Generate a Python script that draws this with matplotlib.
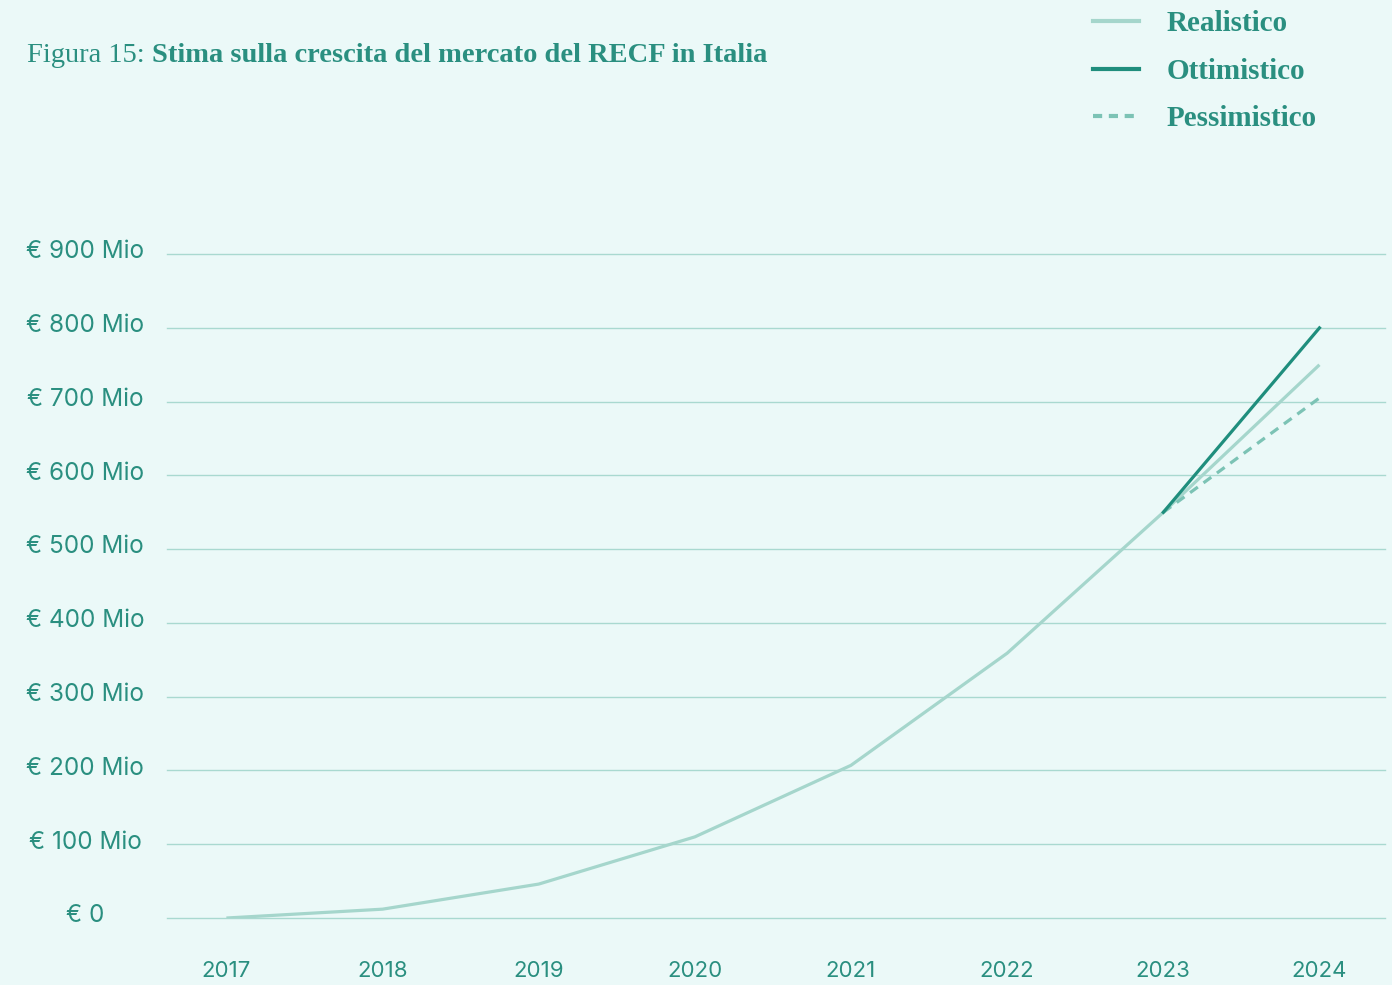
import matplotlib.pyplot as plt
from matplotlib.lines import Line2D
from matplotlib.transforms import blended_transform_factory

# dati (milioni di euro)
anni = [2017, 2018, 2019, 2020, 2021, 2022, 2023, 2024]
realistico = [0, 12, 46, 110, 207, 359, 550, 750]
anni_proiezione = [2023, 2024]
ottimistico = [550, 800]
pessimistico = [550, 705]
y_ticks = [0, 100, 200, 300, 400, 500, 600, 700, 800, 900]
y_labels = ["€ 0"] + [f"€ {v} Mio" for v in y_ticks[1:]]

bg = "#EBF9F8"
verde_scuro = "#1F8E7D"
verde_chiaro = "#A5D6CC"
verde_medio = "#7CC3B5"
griglia = "#A9D9D0"
testo = "#2A8F80"

fig = plt.figure(figsize=(13.92, 9.85), dpi=100, facecolor=bg)
ax = fig.add_axes([0.12, 0.068, 0.875, 0.674])
ax.set_facecolor(bg)

ax.plot(anni, realistico, color=verde_chiaro, lw=2.3, solid_capstyle="butt", zorder=3)
ax.plot(anni_proiezione, ottimistico, color=verde_scuro, lw=2.3, zorder=4)
ax.plot(anni_proiezione, pessimistico, color=verde_medio, lw=2.3, ls=(0, (3, 2.2)), zorder=3)

ax.set_xlim(2016.62, 2024.42)
ax.set_ylim(0, 900)
for v in y_ticks:
    ax.axhline(v, color=griglia, lw=1, zorder=1, clip_on=False)

for s in ax.spines.values():
    s.set_visible(False)
ax.set_xticks(anni)
ax.set_xticklabels([str(a) for a in anni], fontsize=16, color=testo, family="Inter")
ax.tick_params(axis="x", length=0, pad=31)
ax.set_yticks(y_ticks)
ax.set_yticklabels([])
ax.tick_params(axis="y", length=0)

# etichette asse y centrate nella colonna di sinistra
trans = blended_transform_factory(fig.transFigure, ax.transData)
for v, lab in zip(y_ticks, y_labels):
    ax.text(85 / 1392, v + 3, lab, ha="center", va="center", fontsize=17.5, color=testo,
            family="Inter", transform=trans, clip_on=False)

# titolo: "Figura 15:" normale, il resto in grassetto
t1 = fig.text(27 / 1392, 1 - 56 / 985, "Figura 15:", fontsize=20.5, color=testo,
              family="Liberation Serif", va="center", ha="left")
ax.annotate("Stima sulla crescita del mercato del RECF in Italia", xy=(1, 0.5), xycoords=t1,
            xytext=(5, 0), textcoords="offset points", va="center", ha="left",
            fontsize=20.5, color=testo, family="Liberation Serif", weight="bold",
            annotation_clip=False)

handles = [
    Line2D([], [], color=verde_chiaro, lw=3),
    Line2D([], [], color=verde_scuro, lw=3),
    Line2D([], [], color=verde_medio, lw=3, ls=(0, (2.2, 1.6))),
]
leg = fig.legend(handles, ["Realistico", "Ottimistico", "Pessimistico"],
                 loc="upper left", bbox_to_anchor=(1067 / 1392, 1.016), frameon=False,
                 handlelength=1.58, handletextpad=0.92, labelspacing=0.70,
                 prop={"family": "Liberation Serif", "weight": "bold", "size": 21})
for t in leg.get_texts():
    t.set_color(testo)

fig.savefig("out.png", dpi=100, facecolor=bg)
